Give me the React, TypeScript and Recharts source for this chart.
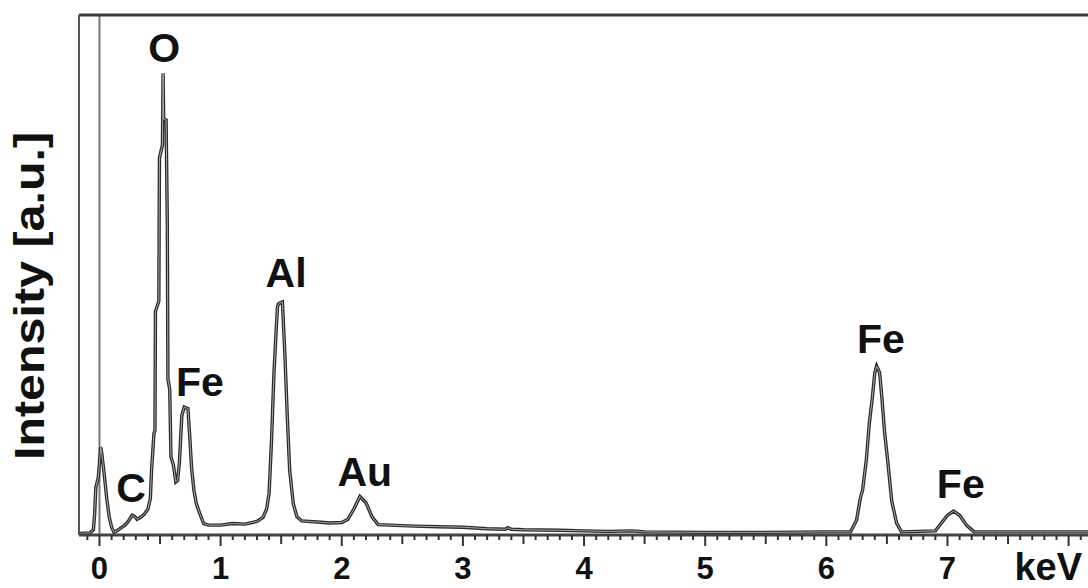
import { LineChart, Line, XAxis, YAxis, ReferenceLine, ReferenceDot } from 'recharts'

// EDS spectrum: [energy keV, intensity a.u.]
const spectrum: [number, number][] = [
    [-0.17, 0.3], [-0.08, 0.4], [-0.05, 1.0], [-0.04, 4.0], [-0.03, 9.2], [-0.01, 11],
    [0.01, 16.9], [0.02, 15.5], [0.04, 11.5], [0.06, 7], [0.08, 3.5], [0.1, 1.5],
    [0.12, 0.5], [0.15, 0.9], [0.18, 1.4], [0.21, 1.9], [0.24, 2.7], [0.27, 3.8],
    [0.29, 3.6], [0.31, 3.0], [0.34, 3.4], [0.37, 4.0], [0.4, 5.0], [0.42, 7.0],
    [0.43, 12.5], [0.45, 19.6], [0.458, 20], [0.462, 43], [0.49, 45], [0.495, 72.5],
    [0.52, 75], [0.525, 88.8], [0.53, 80], [0.55, 79.8], [0.56, 60], [0.565, 30],
    [0.58, 28], [0.59, 15], [0.61, 13.5], [0.63, 10.2], [0.645, 10.5], [0.66, 14],
    [0.68, 23], [0.7, 24.6], [0.73, 24.3], [0.745, 19], [0.76, 13], [0.78, 8.5],
    [0.8, 6], [0.83, 4], [0.86, 2.2], [0.9, 1.9], [1.0, 1.9], [1.1, 2.2],
    [1.2, 2.1], [1.3, 2.6], [1.35, 3.4], [1.38, 5.0], [1.4, 8], [1.42, 18],
    [1.44, 31], [1.46, 40], [1.47, 44], [1.48, 44.5], [1.51, 44.8], [1.53, 35],
    [1.55, 23], [1.57, 12.5], [1.6, 6], [1.63, 3.5], [1.67, 2.7], [1.8, 2.5],
    [1.9, 2.3], [2.0, 2.4], [2.05, 3.0], [2.1, 5.0], [2.15, 7.4], [2.2, 6.2],
    [2.25, 3.5], [2.3, 2.0], [2.4, 1.9], [2.6, 1.7], [2.8, 1.6], [3.0, 1.5],
    [3.2, 1.2], [3.35, 1.1], [3.37, 1.4], [3.4, 1.1], [3.5, 1.0], [3.8, 0.9],
    [4.0, 0.8], [4.2, 0.7], [4.4, 0.8], [4.5, 0.6], [5.0, 0.5], [5.5, 0.5],
    [6.0, 0.6], [6.2, 0.6], [6.25, 2.9], [6.28, 7], [6.3, 8.7], [6.33, 14.4],
    [6.355, 21.5], [6.38, 26.5], [6.4, 31.2], [6.415, 32.5], [6.44, 31.2], [6.46, 26],
    [6.48, 20], [6.51, 13.5], [6.54, 6.5], [6.58, 2.3], [6.62, 0.6], [6.9, 0.8],
    [6.95, 2.3], [7.0, 3.8], [7.05, 4.6], [7.1, 3.8], [7.16, 1.8], [7.22, 0.6],
    [7.5, 0.6], [8.0, 0.6], [8.2, 0.6],
]

// peak annotations: element, energy, label baseline (in intensity units)
const peakNames = ['O', 'C', 'Fe', 'Al', 'Au', 'Fe', 'Fe']
const peakKeV = [0.535, 0.26, 0.83, 1.54, 2.19, 6.45, 7.11]
const peakLabelAt = [91, 6.4, 26.8, 47.7, 9.4, 35, 7.1]

const tickLabels = ['0', '1', '2', '3', '4', '5', '6', '7']
const unitLabel = 'keV'
const yTitle = 'Intensity [a.u.]'

const data = spectrum.map(([kev, counts]) => ({ kev, counts }))
const ticks = Array.from({ length: 83 }, (_, i) => (i - 1) / 10)

const FONT = '"Liberation Sans", Arial, sans-serif'

function EnergyTick(props: any) {
    const { x, y, payload } = props
    const v = payload.value
    const whole = Math.abs(v - Math.round(v)) < 1e-6
    const half = !whole && Math.abs(v * 2 - Math.round(v * 2)) < 1e-6
    const len = whole ? 11 : half ? 9 : 5
    const label = whole ? tickLabels[Math.round(v)] : undefined
    return (
        <g>
            <line x1={x} x2={x} y1={y} y2={y + len} stroke="#333" strokeWidth={2} />
            {label && (
                <text x={x} y={y + 44} textAnchor="middle" fontFamily={FONT} fontWeight="bold" fontSize={31} fill="#111">
                    {label}
                </text>
            )}
        </g>
    )
}

export default function App() {
    return (
        <div style={{ position: 'absolute', left: 0, top: 0, width: 1088, height: 588, background: '#fff' }}>
            <LineChart width={1088} height={588} data={data} margin={{ top: 14, right: 0, bottom: 0, left: 78 }}>
                <XAxis
                    xAxisId="top"
                    orientation="top"
                    dataKey="kev"
                    type="number"
                    domain={[-0.169, 8.16]}
                    allowDataOverflow
                    height={1}
                    tick={false}
                    tickLine={false}
                    axisLine={{ stroke: '#3a3a3a', strokeWidth: 3 }}
                />
                <XAxis
                    dataKey="kev"
                    type="number"
                    domain={[-0.169, 8.16]}
                    allowDataOverflow
                    ticks={ticks}
                    interval={0}
                    height={53}
                    tickSize={0}
                    tickMargin={0}
                    tickLine={false}
                    tick={<EnergyTick />}
                    axisLine={{ stroke: '#444', strokeWidth: 3 }}
                    label={{
                        content: (p: any) => {
                            const vb = p.viewBox
                            return (
                                <text x={vb.x + vb.width - 6} y={vb.y + 45} textAnchor="end" fontFamily={FONT} fontWeight="bold" fontSize={38} fill="#111">
                                    {unitLabel}
                                </text>
                            )
                        },
                    }}
                />
                <YAxis
                    type="number"
                    domain={[0, 100]}
                    width={1}
                    tick={false}
                    tickLine={false}
                    axisLine={{ stroke: '#555', strokeWidth: 2 }}
                />
                <ReferenceLine x={0} stroke="#777" strokeWidth={2} />
                <Line
                    type="linear"
                    dataKey="counts"
                    stroke="#2a2a2a"
                    strokeWidth={3.4}
                    dot={false}
                    isAnimationActive={false}
                />
                <Line
                    type="linear"
                    dataKey="counts"
                    stroke="#a8a8a8"
                    strokeWidth={1}
                    dot={false}
                    isAnimationActive={false}
                />
                {peakNames.map((name, i) => (
                    <ReferenceDot
                        key={i}
                        x={peakKeV[i]}
                        y={peakLabelAt[i]}
                        r={0}
                        shape={(s: any) => (
                            <text x={s.cx} y={s.cy} textAnchor="middle" fontFamily={FONT} fontWeight="bold" fontSize={41} fill="#111">
                                {name}
                            </text>
                        )}
                    />
                ))}
            </LineChart>
            <svg width={78} height={588} style={{ position: 'absolute', left: 0, top: 0 }}>
                <text
                    transform="translate(44, 296) rotate(-90)"
                    textAnchor="middle"
                    fontFamily={FONT}
                    fontWeight="bold"
                    fontSize={43}
                    fill="#111"
                    textLength={328}
                    lengthAdjust="spacingAndGlyphs"
                >
                    {yTitle}
                </text>
            </svg>
        </div>
    )
}
